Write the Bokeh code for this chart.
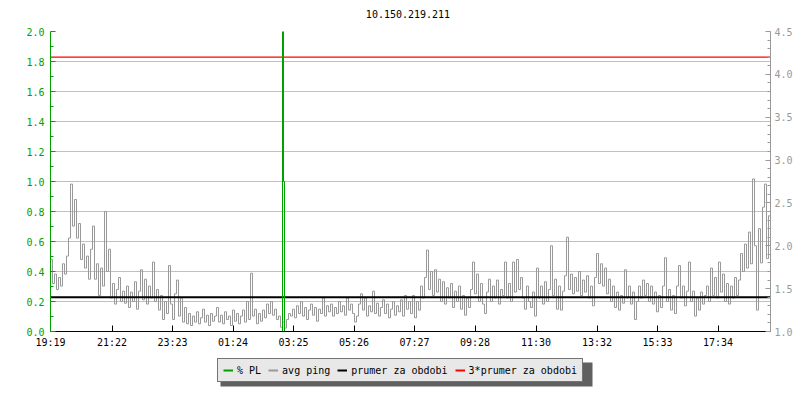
from bokeh.plotting import figure
from bokeh.layouts import column
from bokeh.models import (Range1d, LinearAxis, FixedTicker, Legend, LegendItem,
                          PrintfTickFormatter, BoxAnnotation, Label)
from bokeh.embed import file_html
from bokeh.resources import INLINE

title_text = "10.150.219.211"
x_labels = ["19:19", "21:22", "23:23", "01:24", "03:25", "05:26", "07:27",
            "09:28", "11:30", "13:32", "15:33", "17:34"]
left_ticks = [0.0, 0.2, 0.4, 0.6, 0.8, 1.0, 1.2, 1.4, 1.6, 1.8, 2.0]
left_minor = [0.1, 0.3, 0.5, 0.7, 0.9, 1.1, 1.3, 1.5, 1.7, 1.9]
right_ticks = [1.0, 1.5, 2.0, 2.5, 3.0, 3.5, 4.0, 4.5]
right_minor = [1.1, 1.2, 1.3, 1.4, 1.6, 1.7, 1.8, 1.9, 2.1, 2.2, 2.3, 2.4,
               2.6, 2.7, 2.8, 2.9, 3.1, 3.2, 3.3, 3.4, 3.6, 3.7, 3.8, 3.9,
               4.1, 4.2, 4.3, 4.4]
legend_labels = ["% PL", "avg ping", "prumer za obdobi", "3*prumer za obdobi"]

step_min = 4  # minutes between ping samples

# avg ping [ms], one value every 4 minutes starting 19:19
avg_ping = [
    1.84, 1.56, 1.67, 1.49, 1.63, 1.53, 1.79, 1.67, 1.88, 2.09,
    2.72, 2.23, 2.54, 2.09, 2.26, 1.84, 2.02, 1.74, 1.88, 1.61,
    1.96, 2.23, 1.61, 1.79, 1.42, 1.74, 1.53, 2.40, 1.70, 1.96,
    1.39, 1.56, 1.32, 1.49, 1.63, 1.35, 1.47, 1.33, 1.53, 1.28,
    1.46, 1.35, 1.58, 1.26, 1.47, 1.72, 1.37, 1.61, 1.32, 1.53,
    1.39, 1.81, 1.35, 1.49, 1.25, 1.42, 1.14, 1.35, 1.21, 1.77,
    1.32, 1.14, 1.44, 1.60, 1.18, 1.39, 1.11, 1.28, 1.09, 1.21,
    1.07, 1.18, 1.11, 1.23, 1.09, 1.16, 1.26, 1.11, 1.19, 1.07,
    1.21, 1.12, 1.18, 1.28, 1.11, 1.19, 1.09, 1.23, 1.14, 1.18,
    1.07, 1.25, 1.12, 1.21, 1.09, 1.18, 1.25, 1.11, 1.35, 1.14,
    1.68, 1.18, 1.26, 1.09, 1.21, 1.12, 1.25, 1.16, 1.32, 1.21,
    1.35, 1.19, 1.26, 1.14, 1.18, 1.05, 1.11, 1.04, 1.14, 1.21,
    1.18, 1.26, 1.16, 1.30, 1.21, 1.35, 1.18, 1.28, 1.14, 1.25,
    1.32, 1.19, 1.28, 1.12, 1.26, 1.21, 1.39, 1.18, 1.30, 1.23,
    1.32, 1.18, 1.28, 1.21, 1.35, 1.23, 1.30, 1.19, 1.39, 1.25,
    1.32, 1.21, 1.11, 1.18, 1.32, 1.44, 1.25, 1.39, 1.18, 1.30,
    1.23, 1.47, 1.21, 1.33, 1.18, 1.28, 1.37, 1.21, 1.32, 1.16,
    1.26, 1.35, 1.19, 1.30, 1.23, 1.37, 1.18, 1.42, 1.26, 1.35,
    1.21, 1.42, 1.16, 1.35, 1.25, 1.53, 1.39, 1.63, 1.95, 1.49,
    1.70, 1.42, 1.72, 1.46, 1.61, 1.35, 1.58, 1.32, 1.51, 1.39,
    1.56, 1.28, 1.47, 1.35, 1.53, 1.26, 1.42, 1.19, 1.39, 1.28,
    1.49, 1.81, 1.44, 1.67, 1.35, 1.56, 1.32, 1.21, 1.46, 1.61,
    1.35, 1.53, 1.39, 1.60, 1.32, 1.49, 1.42, 1.81, 1.39, 1.56,
    1.35, 1.81, 1.46, 1.84, 1.49, 1.63, 1.39, 1.26, 1.53, 1.35,
    1.28, 1.46, 1.18, 1.74, 1.39, 1.53, 1.32, 1.58, 1.35, 1.49,
    2.00, 1.42, 1.61, 1.26, 1.53, 1.25, 1.47, 1.65, 2.10, 1.49,
    1.67, 1.44, 1.63, 1.47, 1.70, 1.42, 1.60, 1.46, 1.65, 1.39,
    1.53, 1.30, 1.63, 1.91, 1.56, 1.79, 1.53, 1.74, 1.44, 1.61,
    1.35, 1.53, 1.28, 1.46, 1.25, 1.42, 1.33, 1.72, 1.39, 1.53,
    1.32, 1.46, 1.14, 1.35, 1.53, 1.39, 1.60, 1.42, 1.56, 1.35,
    1.53, 1.32, 1.46, 1.23, 1.42, 1.28, 1.53, 1.86, 1.35, 1.49,
    1.25, 1.42, 1.21, 1.53, 1.77, 1.39, 1.53, 1.30, 1.47, 1.81,
    1.35, 1.47, 1.18, 1.39, 1.25, 1.46, 1.32, 1.42, 1.53, 1.35,
    1.74, 1.42, 1.63, 1.39, 1.81, 1.46, 1.67, 1.35, 1.56, 1.32,
    1.53, 1.39, 1.63, 1.42, 1.60, 1.91, 1.70, 2.02, 1.74, 2.16,
    1.79, 2.78, 2.00, 1.25, 2.20, 1.80, 2.45, 2.72, 1.85, 2.35,
    1.63,
]

# packet loss [%]: minutes from start / value
pl_time = [0, 462, 464, 466, 468, 1440]
pl_value = [0.0, 0.0, 3.4, 1.0, 0.0, 0.0]

mean_ping = 1.4          # prumer za obdobi [ms]
mean_ping_x3 = 3 * mean_ping

GREEN = "#00a000"
GRAY = "#999999"
RED = "#ff0000"
FONT = "DejaVu Sans Mono"

times = [i * step_min for i in range(len(avg_ping))]


def minutes_from_start(label, start):
    h, m = map(int, label.split(":"))
    s_h, s_m = map(int, start.split(":"))
    d = (h * 60 + m) - (s_h * 60 + s_m)
    return d + 1440 if d < 0 else d


x_ticks = [minutes_from_start(l, x_labels[0]) for l in x_labels]

# ---- header strip with the title
hf = figure(width=790, height=27, output_backend="svg", toolbar_location=None,
            x_range=Range1d(times[0], times[-1]), y_range=Range1d(0, 1),
            x_axis_location=None, y_axis_location=None, min_border=0)
hf.outline_line_color = None
hf.grid.visible = False
hf.add_layout(Label(x=(times[0] + times[-1]) / 2, y=0.5, text=title_text,
                    text_align="center", text_baseline="middle",
                    text_font=FONT, text_font_size="10px",
                    text_color="black"))

# ---- main chart
p = figure(width=790, height=325, output_backend="svg", toolbar_location=None,
           x_range=Range1d(times[0], times[-1]), y_range=Range1d(0, 2),
           min_border_left=50, min_border_right=20, min_border_top=4,
           min_border_bottom=21)
p.frame_width = 720
p.frame_height = 300
p.outline_line_color = None
p.background_fill_color = "white"
p.border_fill_color = "white"

p.extra_y_ranges = {"ping": Range1d(1.0, 4.5)}

# grids
p.xgrid.grid_line_color = None
p.ygrid.grid_line_color = "#c0c0c0"
p.ygrid.ticker = FixedTicker(ticks=left_ticks)

# left axis
ya = p.yaxis[0]
ya.ticker = FixedTicker(ticks=left_ticks, minor_ticks=left_minor)
ya.formatter = PrintfTickFormatter(format="%.1f")
ya.axis_line_color = GREEN
ya.major_tick_line_color = GREEN
ya.minor_tick_line_color = GREEN
ya.major_tick_in = 5
ya.major_tick_out = 0
ya.minor_tick_in = 3
ya.minor_tick_out = 0
ya.major_label_text_color = GREEN
ya.major_label_text_font = FONT
ya.major_label_text_font_size = "10px"
ya.major_label_standoff = 6

# right axis
ra = LinearAxis(y_range_name="ping",
                ticker=FixedTicker(ticks=right_ticks, minor_ticks=right_minor),
                formatter=PrintfTickFormatter(format="%.1f"))
ra.axis_line_color = GRAY
ra.major_tick_line_color = GRAY
ra.minor_tick_line_color = GRAY
ra.major_tick_in = 5
ra.major_tick_out = 0
ra.minor_tick_in = 3
ra.minor_tick_out = 0
ra.major_label_text_color = GRAY
ra.major_label_text_font = FONT
ra.major_label_text_font_size = "10px"
ra.major_label_standoff = 4
p.add_layout(ra, "right")

# bottom axis
xa = p.xaxis[0]
xa.ticker = FixedTicker(ticks=x_ticks, minor_ticks=[])
xa.major_label_overrides = {t: l for t, l in zip(x_ticks, x_labels)}
xa.axis_line_color = "black"
xa.major_tick_line_color = "black"
xa.major_tick_in = 6
xa.major_tick_out = 0
xa.minor_tick_line_color = None
xa.major_label_text_font = FONT
xa.major_label_text_font_size = "10px"
xa.major_label_text_color = "black"
xa.major_label_standoff = 5

# series
p.step(times, avg_ping, mode="after", y_range_name="ping",
       line_color=GRAY, line_width=1)
p.line([times[0], times[-1]], [mean_ping, mean_ping],
       y_range_name="ping", line_color="black", line_width=2)
p.line([times[0], times[-1]], [mean_ping_x3, mean_ping_x3],
       y_range_name="ping", line_color=RED, line_width=1.3)
p.step(pl_time, pl_value, mode="after", line_color=GREEN, line_width=1)

# ---- legend strip below the chart
lf = figure(width=790, height=44, output_backend="svg", toolbar_location=None,
            x_range=Range1d(0, 1), y_range=Range1d(0, 1),
            x_axis_location=None, y_axis_location=None, min_border=0)
lf.outline_line_color = None
lf.grid.visible = False
swatch_colors = [GREEN, GRAY, "black", RED]
items = []
for lbl, col in zip(legend_labels, swatch_colors):
    # swatch-only renderers (no visible data)
    r = lf.line(x=[float("nan")], y=[float("nan")], line_color=col,
                line_width=2)
    items.append(LegendItem(label=lbl, renderers=[r]))

shadow = BoxAnnotation(left=170, right=542, top=10, bottom=34,
                       left_units="screen", right_units="screen",
                       top_units="screen", bottom_units="screen",
                       fill_color="#606060", fill_alpha=1, line_color=None)
lf.add_layout(shadow)

legend = Legend(items=items, orientation="horizontal", location=(167, 14))
legend.label_text_font = FONT
legend.label_text_font_size = "10px"
legend.label_text_color = "black"
legend.glyph_width = 10
legend.glyph_height = 12
legend.label_standoff = 4
legend.spacing = 7
legend.padding = 5
legend.margin = 0
legend.background_fill_color = "#e8e8e8"
legend.background_fill_alpha = 1
legend.border_line_color = "black"
legend.border_line_width = 1
lf.add_layout(legend, "center")

layout = column(hf, p, lf, spacing=0)
open("out.html", "w").write(file_html(layout, INLINE))
